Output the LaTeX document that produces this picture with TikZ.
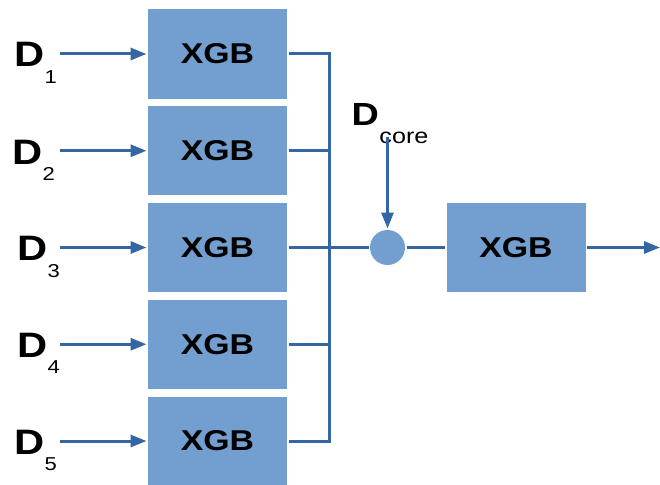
\documentclass[tikz,border=0pt]{standalone}
\usepackage{fontspec}
\setmainfont[FakeStretch=1.18]{Liberation Sans}
\usetikzlibrary{arrows.meta,positioning}

\definecolor{boxfill}{HTML}{729FCF}
\definecolor{wireblue}{HTML}{3465A4}

\newcommand{\dname}[1]{{\fontsize{26.5}{26.5}\selectfont\bfseries D}\raisebox{-12.5pt}{\fontsize{14}{14}\selectfont #1}}

\tikzset{every picture/.style={line width=2.25pt}}

\begin{document}
\begin{tikzpicture}[x=0.75pt,y=0.75pt,yscale=-1,xscale=1,
  xgb/.style={fill=boxfill,minimum width=104.25pt,minimum height=66.75pt,inner sep=0pt,font=\fontsize{21.5}{21.5}\selectfont\bfseries},
  wire/.style={draw=wireblue,line width=2.25pt},
  flow/.style={wire,-{Triangle[length=12pt,width=9pt]}},
  dlab/.style={inner sep=0pt,anchor=base west}]
\useasboundingbox (0,0) rectangle (660,485);

%Boxes
\node[xgb] (xgb1) at (217.5,54) {XGB};
\node[xgb] (xgb2) at (217.5,150.75) {XGB};
\node[xgb] (xgb3) at (217.5,247.5) {XGB};
\node[xgb] (xgb4) at (217.5,344.25) {XGB};
\node[xgb] (xgb5) at (217.5,441) {XGB};
\node[xgb] (xgbout) at (516,247.5) {XGB};
%Sum point
\node[circle,fill=boxfill,minimum size=26.25pt,inner sep=0pt] (sum) at (387.5,247.5) {};
\coordinate (out) at (660,247.5);
\coordinate (inx) at (60,0);

% Text Node
\node[dlab] (d1) at (13,67) {\dname{1}};
% Text Node
\node[dlab] (d2) at (11,164) {\dname{2}};
% Text Node
\node[dlab] (d3) at (16,260.5) {\dname{3}};
% Text Node
\node[dlab] (d4) at (16,357) {\dname{4}};
% Text Node
\node[dlab] (d5) at (13,454) {\dname{5}};
% Text Node
\node[dlab] (dcore) at (350,125) {{\fontsize{24}{24}\selectfont\bfseries D}\kern0.5pt\raisebox{-13.5pt}{\fontsize{16}{16}\selectfont core}};

% Connection
\draw[flow] (inx |- xgb1.west) -- (xgb1.west);
\draw[flow] (inx |- xgb2.west) -- (xgb2.west);
\draw[flow] (inx |- xgb3.west) -- (xgb3.west);
\draw[flow] (inx |- xgb4.west) -- (xgb4.west);
\draw[flow] (inx |- xgb5.west) -- (xgb5.west);
% Bus
\draw[wire] (xgb1.east) -- ++(41,0) |- (xgb5.east);
\draw[wire] (xgb2.east) -- ++(41,0);
\draw[wire] (xgb4.east) -- ++(41,0);
\draw[wire] (xgb3.east) -- (sum);
\draw[wire] (sum) -- (xgbout);
\draw[flow] ([yshift=-6pt]dcore.south -| sum.north) -- (sum.north);
\draw[flow] (xgbout.east) -- (out);

\end{tikzpicture}
\end{document}
